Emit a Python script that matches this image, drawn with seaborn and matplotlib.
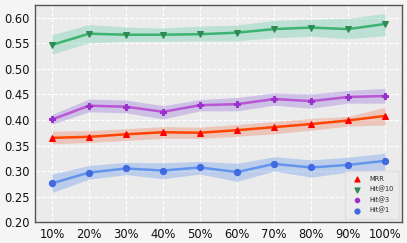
import matplotlib
matplotlib.use("Agg")
import matplotlib.pyplot as plt
import seaborn as sns
import numpy as np
import pandas as pd

ratios = ["10%", "20%", "30%", "40%", "50%", "60%", "70%", "80%", "90%", "100%"]

mrr = [0.365, 0.367, 0.372, 0.376, 0.375, 0.380, 0.386, 0.392, 0.399, 0.408]
mrr_lo = [0.353, 0.356, 0.360, 0.364, 0.364, 0.368, 0.373, 0.380, 0.388, 0.390]
mrr_hi = [0.378, 0.379, 0.383, 0.387, 0.386, 0.391, 0.397, 0.403, 0.407, 0.425]

hit10 = [0.547, 0.569, 0.567, 0.567, 0.568, 0.571, 0.578, 0.581, 0.578, 0.588]
hit10_lo = [0.529, 0.551, 0.554, 0.554, 0.555, 0.555, 0.561, 0.564, 0.559, 0.565]
hit10_hi = [0.567, 0.587, 0.582, 0.580, 0.584, 0.586, 0.595, 0.597, 0.599, 0.609]

hit3 = [0.401, 0.428, 0.426, 0.416, 0.429, 0.431, 0.441, 0.437, 0.445, 0.447]
hit3_lo = [0.392, 0.416, 0.414, 0.402, 0.418, 0.418, 0.429, 0.423, 0.433, 0.433]
hit3_hi = [0.411, 0.441, 0.439, 0.428, 0.440, 0.444, 0.453, 0.451, 0.458, 0.462]

hit1 = [0.276, 0.297, 0.305, 0.301, 0.307, 0.298, 0.314, 0.307, 0.312, 0.320]
hit1_lo = [0.258, 0.284, 0.293, 0.285, 0.294, 0.280, 0.300, 0.288, 0.298, 0.302]
hit1_hi = [0.294, 0.311, 0.317, 0.316, 0.319, 0.315, 0.328, 0.322, 0.327, 0.335]

series = [
    ("MRR", mrr, mrr_lo, mrr_hi, "#FF4500", "red", "#F08060", "^"),
    ("Hit@10", hit10, hit10_lo, hit10_hi, "#3CB371", "#2E8B57", "#66CDAA", "v"),
    ("Hit@3", hit3, hit3_lo, hit3_hi, "#BA55D3", "#9932CC", "#9370DB", "P"),
    ("Hit@1", hit1, hit1_lo, hit1_hi, "#6495ED", "#4169E1", "#6495ED", "o"),
]

sns.set_style("darkgrid", {"axes.facecolor": "#EBEBEB", "grid.color": "white",
                           "grid.linestyle": "--", "axes.edgecolor": "#555555"})
plt.rcParams['font.family'] = ['DejaVu Sans']

fig = plt.figure(figsize=(4.07, 2.43), dpi=100, facecolor="#F5F5F5")
ax = fig.add_axes([0.086, 0.086, 0.902, 0.893])

x = np.arange(len(ratios))
handles = []
for name, vals, lo, hi, lc, mc, fc, mk in series:
    df = pd.DataFrame({"x": x, "y": vals})
    ax.fill_between(x, lo, hi, color=fc, alpha=0.35, linewidth=0)
    sns.lineplot(data=df, x="x", y="y", ax=ax, color=lc, linewidth=1.8,
                 marker=mk, markersize=4.5, markerfacecolor=mc, markeredgecolor=mc)
    h = ax.scatter([], [], marker=mk, color=mc, s=12, label=name)
    handles.append(h)

ax.set_xticks(x)
ax.set_xticklabels(ratios)
ax.set_xlim(-0.46, 9.46)
ax.set_ylim(0.2, 0.625)
ax.set_yticks(np.arange(0.20, 0.601, 0.05))
ax.set_yticklabels([f"{v:.2f}" for v in np.arange(0.20, 0.601, 0.05)])
ax.set_xlabel("")
ax.set_ylabel("")
ax.tick_params(axis="both", labelsize=8.3, colors="#111111", length=2.5, pad=1.5)
for s in ax.spines.values():
    s.set_visible(True)
    s.set_color("#555555")
    s.set_linewidth(1.0)
ax.grid(True, color="white", linestyle="--", linewidth=0.8)

leg = ax.legend(handles=handles, loc="lower right", fontsize=4.8, frameon=True,
                facecolor="#EBEBEB", edgecolor="#DDDDDD", handletextpad=0.8,
                borderpad=0.8, labelspacing=0.6)

fig.savefig("out.png", dpi=100, facecolor=fig.get_facecolor())
